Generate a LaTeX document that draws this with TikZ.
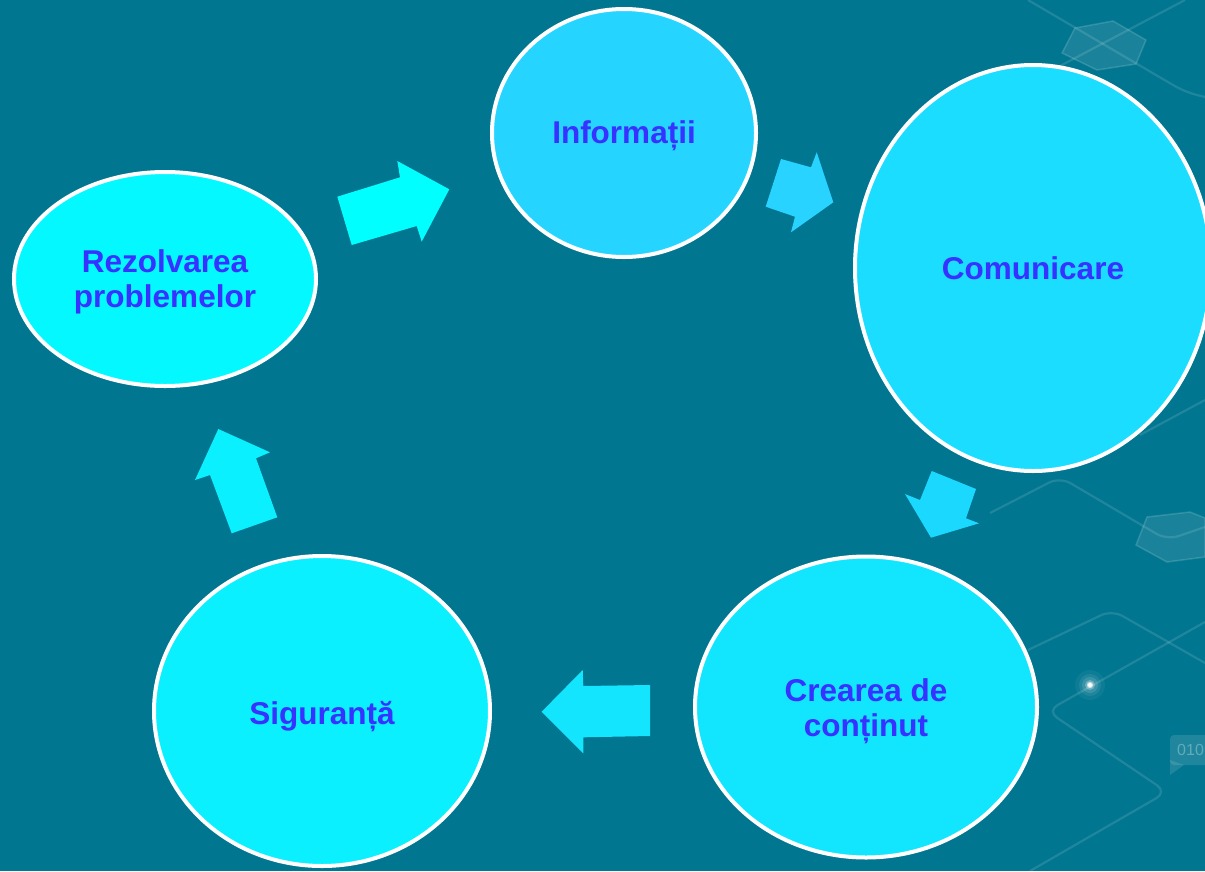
\documentclass[tikz,border=0pt]{standalone}
\usepackage{fontspec}
\setmainfont{Liberation Sans}
\usetikzlibrary{shapes.geometric}
\definecolor{bg}{RGB}{0,118,144}
\definecolor{txt}{RGB}{55,50,255}
\definecolor{cA}{RGB}{38,213,255}
\definecolor{cB}{RGB}{26,221,255}
\definecolor{cC}{RGB}{18,230,255}
\definecolor{cD}{RGB}{10,240,255}
\definecolor{cE}{RGB}{4,248,255}
\definecolor{aA}{RGB}{0,255,255}
\definecolor{aB}{RGB}{40,211,255}
\definecolor{aC}{RGB}{27,216,255}
\definecolor{aD}{RGB}{20,229,255}
\definecolor{aE}{RGB}{10,240,255}
\tikzset{
  bubble/.style={ellipse, draw=white, line width=4pt, inner sep=0pt},
  label text/.style={font=\fontsize{31.5}{35}\selectfont\bfseries, text=txt, align=center, inner sep=0pt},
  deco/.style={draw=white, draw opacity=0.12, line width=2.2pt, rounded corners=12pt},
  hexa/.style={fill=white, fill opacity=0.1, draw=white, draw opacity=0.15, line width=1.5pt}
}
\begin{document}
\begin{tikzpicture}[x=1pt,y=-1pt]
\fill[bg] (0,0) rectangle (1205,871);
\useasboundingbox (0,0) rectangle (1205,871);
% background decorations
\draw[deco] (1028,0) -- (1185,92) -- (1205,97);
\draw[deco] (1185,0) -- (1060,66);
\draw[hexa] (1062,53) -- (1075,28) -- (1113,21) -- (1146,40) -- (1136,64) -- (1097,70) -- cycle;
\draw[deco] (990,513) -- (1060,477) -- (1167,540) -- (1205,527);
\draw[deco] (1205,400) -- (1140,435);
\draw[hexa] (1136,545) -- (1147,517) -- (1190,512) -- (1205,518) -- (1205,557) -- (1167,562) -- cycle;
\draw[deco] (1028,650) -- (1112,610) -- (1205,663);
\draw[deco] (1205,622) -- (1047,711) -- (1167,792) -- (1030,871);
\fill[white, opacity=0.12, rounded corners=4pt] (1170,735) rectangle (1212,765);
\fill[white, opacity=0.12] (1170,760) -- (1184,765) -- (1170,775) -- cycle;
\node[text=white, opacity=0.3, font=\fontsize{16}{16}\selectfont, anchor=west, inner sep=0pt] (bits) at (1177,750) {010};
\foreach \r/\o in {15/0.05,11/0.08,8/0.12,5/0.25,3.2/0.6,2/1} \fill[white, opacity=\o] (1090,685) circle (\r);
% nodes
\node[bubble, fill=cA, minimum width=264pt, minimum height=248pt] (info) at (624,133) {};
\node[bubble, fill=cB, minimum width=356pt, minimum height=406pt] (comm) at (1033,268) {};
\node[bubble, fill=cC, minimum width=342pt, minimum height=301pt] (crea) at (866,707) {};
\node[bubble, fill=cD, minimum width=336pt, minimum height=310pt] (sigu) at (322,711) {};
\node[bubble, fill=cE, minimum width=302pt, minimum height=214pt] (rezo) at (165,279) {};
\node[label text] (infoT) at ([yshift=-3pt]info.center) {Informații};
\node[label text] (commT) at (comm.center) {Comunicare};
\node[label text] (creaT) at ([yshift=-4pt]crea.center) {Crearea de\\conținut};
\node[label text] (siguT) at ([yshift=-6pt]sigu.center) {Siguranță};
\node[label text] (rezoT) at ([yshift=-3pt]rezo.center) {Rezolvarea\\problemelor};
% block arrows
\fill[aA] (351.7,245) -- (337.3,196.7) -- (400,177.3) -- (397.3,161) -- (449.3,189.3) -- (421.7,241.7) -- (416.7,226) -- cycle;
\fill[aB] (765.7,206.7) -- (781,159) -- (811,167.3) -- (816.7,152.3) -- (833.3,202.3) -- (791,232.3) -- (795,216.7) -- cycle;
\fill[aC] (931.7,471) -- (976,489) -- (966,518.3) -- (979,523.3) -- (931,537.7) -- (905,494) -- (920,500) -- cycle;
\fill[aD] (650,685) -- (650,736) -- (583.3,737.3) -- (583.3,753.3) -- (541.7,711.7) -- (582.7,670) -- (583.3,686) -- cycle;
\fill[aE] (231.7,533.3) -- (277.3,517.3) -- (256,458.3) -- (270,452.3) -- (218.3,429) -- (195,480) -- (210,475) -- cycle;
\end{tikzpicture}
\end{document}
